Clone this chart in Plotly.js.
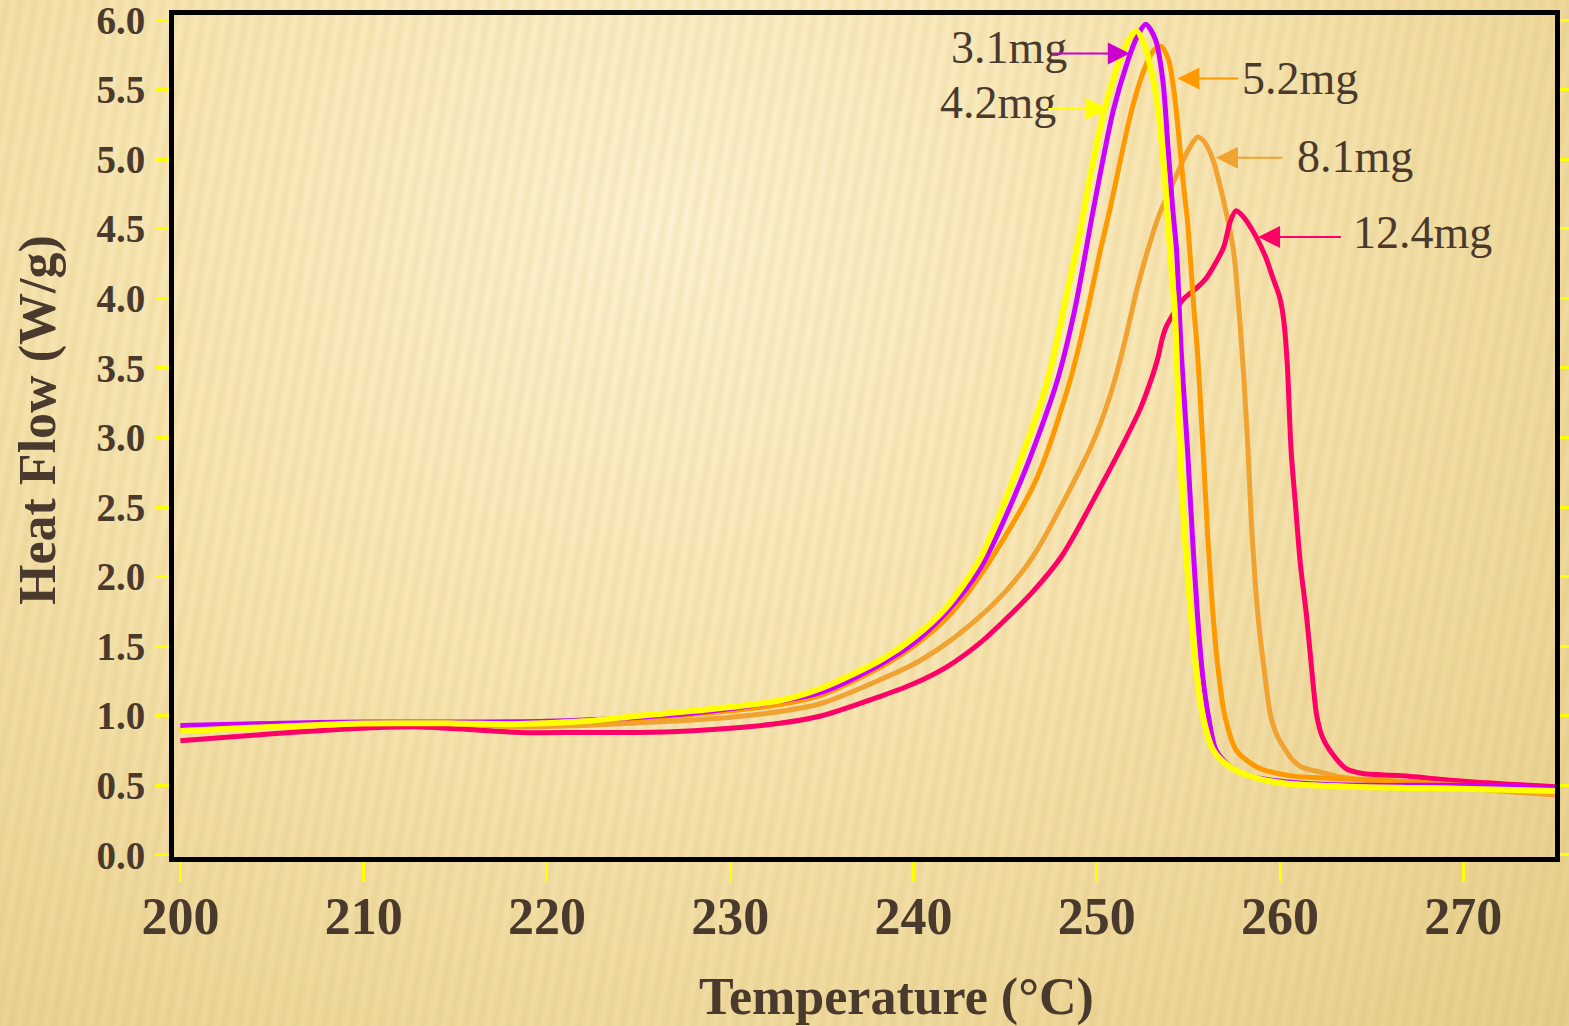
<!DOCTYPE html>
<html>
<head>
<meta charset="utf-8">
<script src="https://cdn.plot.ly/plotly-3.0.1.min.js"></script>
<style>
  html, body { margin: 0; padding: 0; }
  body {
    width: 1569px; height: 1026px; overflow: hidden;
    background:
      repeating-linear-gradient(100deg, rgba(205,165,70,0) 0px, rgba(205,165,70,0.15) 7px, rgba(205,165,70,0) 14px),
      radial-gradient(ellipse at 42% 22%, #FDF3D3 0%, #F8E7B6 40%, #EED99D 75%, #E6CF8C 100%);
  }
  #chart { width: 1569px; height: 1026px; }
</style>
</head>
<body>
<div id="chart"></div>
<script>
// ---- Data ----
const seriesNames = ['3.1mg', '4.2mg', '5.2mg', '8.1mg', '12.4mg'];

const temp_3_1 = [200, 205, 210, 215, 220, 225, 228, 232, 235, 238.2, 240, 241.8, 243.6, 245.8, 247.8, 248.8, 249.8, 250.9, 251.7, 252.2, 252.67, 253.2, 253.6, 253.9, 254.15, 254.35, 254.5, 254.6, 254.95, 255.2, 255.5, 255.8, 256.1, 256.5, 257.3, 258.5, 260, 262, 265, 270, 275];
const hf_3_1   = [0.93, 0.945, 0.955, 0.955, 0.96, 0.99, 1.02, 1.09, 1.17, 1.37, 1.52, 1.745, 2.05, 2.67, 3.39, 3.92, 4.63, 5.35, 5.71, 5.88, 5.97, 5.86, 5.57, 5.06, 4.63, 4.35, 3.92, 3.63, 2.91, 2.33, 1.71, 1.26, 0.99, 0.754, 0.634, 0.56, 0.53, 0.51, 0.50, 0.50, 0.48];

const temp_4_2 = [200, 205, 210, 215, 218.5, 222, 225, 228, 232.7, 235, 238.2, 240, 241.8, 243.6, 245.36, 247.27, 248.3, 249.0, 249.6, 250.4, 251.25, 251.8, 252.17, 252.6, 253.0, 253.4, 253.8, 254.05, 254.25, 254.55, 254.8, 255.15, 255.45, 255.8, 256.35, 257.25, 258.5, 260.2, 263.75, 268, 275];
const hf_4_2   = [0.89, 0.92, 0.945, 0.945, 0.94, 0.96, 1.0, 1.035, 1.11, 1.2, 1.40, 1.56, 1.78, 2.12, 2.67, 3.39, 3.99, 4.42, 4.85, 5.35, 5.71, 5.87, 5.92, 5.82, 5.62, 5.3, 4.7, 4.25, 3.92, 2.91, 2.3, 1.71, 1.3, 0.99, 0.754, 0.634, 0.56, 0.515, 0.49, 0.48, 0.46];

const temp_5_2 = [200, 205, 210, 215, 220, 225, 228, 232.7, 235, 238.2, 240, 241.8, 243.6, 246.6, 248.5, 249.5, 250.2, 250.7, 251.9, 252.6, 253.1, 253.5, 253.9, 254.2, 254.45, 254.7, 254.95, 255.15, 255.3, 255.5, 255.8, 256.05, 256.35, 256.65, 257.0, 257.6, 258.7, 260.5, 263, 265, 270, 275];
const hf_5_2   = [0.905, 0.93, 0.945, 0.945, 0.95, 0.98, 1.01, 1.08, 1.15, 1.35, 1.5, 1.70, 2.0, 2.67, 3.39, 3.92, 4.35, 4.63, 5.35, 5.65, 5.78, 5.81, 5.72, 5.5, 5.2, 4.85, 4.55, 4.2, 3.92, 3.6, 2.91, 2.3, 1.71, 1.3, 0.99, 0.754, 0.634, 0.57, 0.55, 0.54, 0.50, 0.45];

const temp_8_1 = [200, 205, 210, 215, 218.5, 222, 225, 227.3, 230, 232.7, 235, 238.2, 240, 241.8, 243.6, 245.0, 246.5, 248.7, 249.9, 250.6, 251.1, 251.6, 251.95, 252.2, 252.7, 253.4, 254.1, 254.7, 255.1, 255.5, 255.9, 256.35, 256.9, 257.45, 257.8, 258.03, 258.25, 258.46, 258.8, 259.2, 259.5, 259.9, 260.3, 260.7, 261.15, 261.7, 262.4, 263.3, 265, 270, 275];
const hf_8_1   = [0.90, 0.92, 0.94, 0.94, 0.92, 0.93, 0.95, 0.965, 0.99, 1.03, 1.09, 1.26, 1.37, 1.52, 1.71, 1.89, 2.14, 2.67, 3.0, 3.25, 3.47, 3.73, 3.93, 4.07, 4.31, 4.6, 4.81, 4.99, 5.09, 5.16, 5.12, 4.99, 4.71, 4.35, 3.84, 3.41, 2.91, 2.33, 1.71, 1.26, 0.99, 0.84, 0.754, 0.68, 0.634, 0.61, 0.59, 0.56, 0.53, 0.48, 0.43];

const temp_12_4 = [200, 205, 210, 213, 216, 218.5, 222, 225, 228, 230, 232.7, 235, 238.2, 240, 241.8, 243.6, 245, 246.5, 248.1, 250.1, 251.5, 252.35, 252.9, 253.35, 253.55, 253.8, 254.7, 255.5, 256.0, 256.9, 257.07, 257.3, 257.6, 257.9, 258.3, 258.7, 259.2, 259.6, 259.95, 260.1, 260.25, 260.4, 260.6, 260.85, 261.1, 261.45, 261.75, 262.0, 262.3, 262.7, 263.6, 264.5, 266.5, 270, 275];
const hf_12_4   = [0.82, 0.87, 0.91, 0.92, 0.90, 0.88, 0.88, 0.88, 0.893, 0.91, 0.946, 1.0, 1.14, 1.23, 1.35, 1.52, 1.69, 1.89, 2.15, 2.62, 2.97, 3.2, 3.39, 3.58, 3.7, 3.80, 3.99, 4.08, 4.15, 4.36, 4.44, 4.56, 4.63, 4.60, 4.53, 4.44, 4.3, 4.15, 4.02, 3.93, 3.78, 3.51, 2.91, 2.5, 2.1, 1.71, 1.3, 1.0, 0.85, 0.754, 0.62, 0.585, 0.57, 0.53, 0.49];

const xTickVals = [200, 210, 220, 230, 240, 250, 260, 270];
const yTickVals = [0.0, 0.5, 1.0, 1.5, 2.0, 2.5, 3.0, 3.5, 4.0, 4.5, 5.0, 5.5, 6.0];

// ---- Styling ----
const serif = '"Liberation Serif", "Times New Roman", Times, serif';
const textColor = '#4A3A2D';
const colors = {
  '3.1mg': '#CC00FF',
  '4.2mg': '#FFFF00',
  '5.2mg': '#FF9900',
  '8.1mg': '#F0A330',
  '12.4mg': '#FF0066'
};
const arrowColors = {
  '3.1mg': '#CC00CC',
  '4.2mg': '#FFFF00',
  '5.2mg': '#FF9900',
  '8.1mg': '#F0A330',
  '12.4mg': '#FF0066'
};

function trace(name, x, y, width) {
  return {
    type: 'scatter', mode: 'lines', name: name, x: x, y: y,
    line: { color: colors[name], width: width, shape: 'spline', smoothing: 0.8 },
    hoverinfo: 'x+y+name'
  };
}

// drawing order: bottom to top
const data = [
  trace('8.1mg', temp_8_1, hf_8_1, 5),
  trace('12.4mg', temp_12_4, hf_12_4, 5),
  trace('5.2mg', temp_5_2, hf_5_2, 5),
  trace('3.1mg', temp_3_1, hf_3_1, 5),
  trace('4.2mg', temp_4_2, hf_4_2, 6)
];

// label annotation positions (data coords): text centre, arrow tail, arrow tip
const labelText = [
  { name: '3.1mg', tx: 245.2, ty: 5.80, ax: 247.5, tipx: 251.8, ay: 5.76 },
  { name: '4.2mg', tx: 244.6, ty: 5.41, ax: 247.27, tipx: 250.6, ay: 5.36 },
  { name: '5.2mg', tx: 261.1, ty: 5.58, ax: 257.8, tipx: 254.4, ay: 5.58 },
  { name: '8.1mg', tx: 264.1, ty: 5.02, ax: 260.2, tipx: 256.5, ay: 5.01 },
  { name: '12.4mg', tx: 267.75, ty: 4.47, ax: 263.4, tipx: 258.8, ay: 4.44 }
];

const annotations = [];
labelText.forEach(l => {
  annotations.push({
    x: l.tx, y: l.ty, xref: 'x', yref: 'y', text: l.name, showarrow: false,
    xanchor: 'center', yanchor: 'middle',
    font: { family: serif, size: 46, color: textColor }
  });
});
labelText.forEach(l => {
  annotations.push({
    x: l.tipx, y: l.ay, xref: 'x', yref: 'y',
    ax: l.ax, ay: l.ay, axref: 'x', ayref: 'y',
    text: '', showarrow: true, arrowhead: 2, arrowsize: 2.2, arrowwidth: 2,
    arrowcolor: arrowColors[l.name], standoff: 0, startstandoff: 0
  });
});
// axis titles
annotations.push({
  xref: 'paper', yref: 'paper', x: 0.5235, y: -0.166, xanchor: 'center', yanchor: 'middle',
  text: '<b>Temperature (°C)</b>', showarrow: false,
  font: { family: serif, size: 52, color: textColor }
});
annotations.push({
  xref: 'paper', yref: 'paper', x: -0.0985, y: 0.519, xanchor: 'center', yanchor: 'middle',
  text: '<b>Heat Flow (W/g)</b>', showarrow: false, textangle: -90,
  font: { family: serif, size: 52, color: textColor }
});

const layout = {
  width: 1569, height: 1026,
  margin: { l: 174, r: 14, t: 15, b: 169, pad: 0 },
  paper_bgcolor: 'rgba(0,0,0,0)',
  plot_bgcolor: 'rgba(0,0,0,0)',
  showlegend: false,
  xaxis: {
    range: [199.65, 275.0],
    tickvals: xTickVals,
    ticktext: xTickVals.map(String),
    showgrid: false, zeroline: false,
    showline: true, linecolor: '#000000', linewidth: 5, mirror: true,
    ticks: 'outside', ticklen: 20, tickwidth: 3, tickcolor: '#FFFF00',
    ticklabelstandoff: -10, ticklabeloverflow: 'allow',
    tickfont: { family: serif, size: 52, color: textColor, weight: 'bold' }
  },
  yaxis: {
    range: [-0.015, 6.036],
    tickvals: yTickVals,
    ticktext: yTickVals.map(v => v.toFixed(1)),
    showgrid: false, zeroline: false,
    showline: true, linecolor: '#000000', linewidth: 5, mirror: 'ticks',
    ticks: 'outside', ticklen: 14, tickwidth: 3, tickcolor: '#FFFF00',
    ticklabelstandoff: 2, ticklabeloverflow: 'allow',
    tickfont: { family: serif, size: 39, color: textColor, weight: 'bold' }
  },
  annotations: annotations
};

Plotly.newPlot('chart', data, layout, { displayModeBar: false, staticPlot: true });
</script>
</body>
</html>
